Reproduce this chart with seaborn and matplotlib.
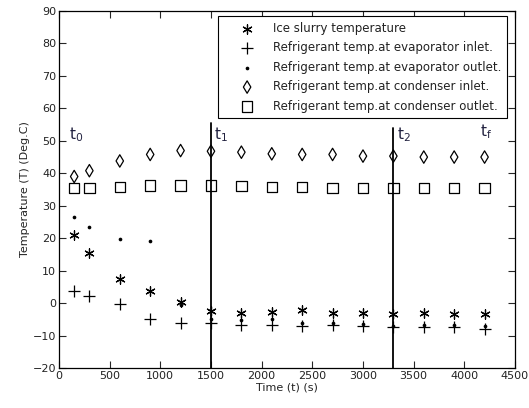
import pandas as pd
import matplotlib
matplotlib.use("Agg")
import matplotlib.pyplot as plt
import seaborn as sns

# time points (s)
time_s = [150, 300, 600, 900, 1200, 1500, 1800, 2100, 2400, 2700, 3000, 3300, 3600, 3900, 4200]

ice_slurry = [21, 15.5, 7.5, 3.8, 0.3, -2.5, -3, -2.8, -2.2, -3, -3, -3.3, -3.2, -3.3, -3.3]
evap_inlet = [3.7, 2.2, -0.4, -5, -6, -6.2, -6.6, -6.8, -7, -6.8, -7, -7.3, -7.5, -7.5, -8]
evap_outlet = [26.5, 23.5, 19.9, 19.2, -0.5, -5, -5.2, -5, -6, -6, -6.4, -7, -6.6, -6.6, -7]
cond_inlet = [39, 40.8, 43.8, 45.8, 47, 46.8, 46.5, 46, 45.8, 45.8, 45.3, 45.3, 45, 45, 45]
cond_outlet = [35.5, 35.5, 35.8, 36.2, 36.2, 36.2, 36, 35.8, 35.8, 35.5, 35.5, 35.5, 35.5, 35.5, 35.5]

labels = ["Ice slurry temperature",
          "Refrigerant temp.at evaporator inlet.",
          "Refrigerant temp.at evaporator outlet.",
          "Refrigerant temp.at condenser inlet.",
          "Refrigerant temp.at condenser outlet."]

phase_times = [1500, 3300]
phase_labels = [r"$\mathregular{t_0}$", r"$\mathregular{t_1}$",
                r"$\mathregular{t_2}$", r"$\mathregular{t_f}$"]
phase_label_x = [170, 1600, 3400, 4210]
phase_label_y = [49, 49, 49, 50]

sns.set_style("ticks")
plt.rcParams["font.family"] = ["DejaVu Sans"]

fig = plt.figure(figsize=(5.29, 4.08), dpi=100)
ax = fig.add_axes([0.1115, 0.098, 0.862, 0.875])

series = [ice_slurry, evap_inlet, evap_outlet, cond_inlet, cond_outlet]
markers = [(6, 2, 0), "+", "o", "d", "s"]
sizes = [45, 70, 7, 40, 55]
for vals, lab, mk, sz in zip(series, labels, markers, sizes):
    df = pd.DataFrame({"time": time_s, "temp": vals})
    if mk in ("d", "s"):
        sns.scatterplot(data=df, x="time", y="temp", marker=mk, s=sz,
                        facecolor="none", edgecolor="black", linewidth=0.9,
                        label=lab, ax=ax)
    elif mk == "o":
        sns.scatterplot(data=df, x="time", y="temp", marker=mk, s=sz,
                        color="black", edgecolor="black", linewidth=0,
                        label=lab, ax=ax)
    else:
        sns.scatterplot(data=df, x="time", y="temp", marker=mk, s=sz,
                        color="black", linewidth=0.9, label=lab, ax=ax)

# phase boundaries
for t, top in zip(phase_times, [55.5, 54]):
    ax.plot([t, t], [-20, top], color="black", lw=1.3)

for lab, xx, yy in zip(phase_labels, phase_label_x, phase_label_y):
    ax.text(xx, yy, lab, fontsize=11, color="#222240", ha="center", va="bottom")

ax.set_xlim(0, 4500)
ax.set_ylim(-20, 90)
ax.set_xticks(range(0, 4501, 500))
ax.set_yticks(range(-20, 91, 10))
ax.tick_params(direction="in", top=True, right=True, labelsize=8, length=5,
               width=0.8, labelcolor="#222222", pad=2)
for sp in ax.spines.values():
    sp.set_linewidth(0.9)
    sp.set_color("black")
ax.set_xlabel("Time (t) (s)", fontsize=8, labelpad=1, color="#222222")
ax.set_ylabel("Temperature (T) (Deg.C)", fontsize=8, labelpad=2, color="#222222")

leg = ax.legend(loc="upper right", bbox_to_anchor=(0.982, 0.985), fontsize=8.5,
                frameon=True, fancybox=False, edgecolor="black", framealpha=1,
                borderpad=0.45, labelspacing=0.55, handletextpad=0.2,
                handlelength=4, borderaxespad=0)
leg.get_frame().set_linewidth(0.8)
for txt in leg.get_texts():
    txt.set_color("#222222")

fig.savefig("out.png", dpi=100)
